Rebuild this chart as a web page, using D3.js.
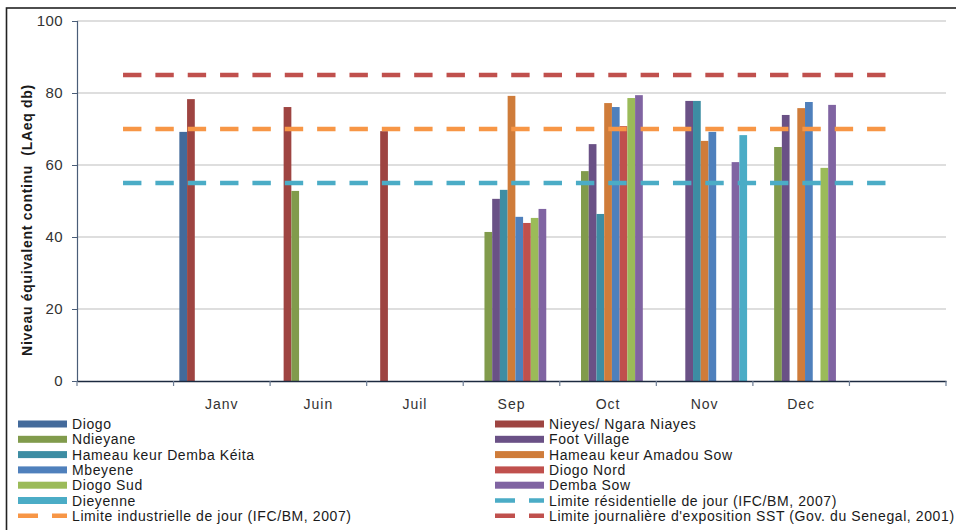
<!DOCTYPE html>
<html>
<head>
<meta charset="utf-8">
<script src="https://cdn.jsdelivr.net/npm/d3@7"></script>
<style>
  html, body { margin: 0; padding: 0; background: #fff; }
  svg { display: block; }
  svg text { font-family: "Liberation Sans", Arial, sans-serif; }
</style>
</head>
<body>
<svg id="chart" width="956" height="530"></svg>
<script>
// Months along the x axis (first and last slots are left empty)
const categories = ["", "Janv", "Juin", "Juil", "Sep", "Oct", "Nov", "Dec", ""];

// Measured noise levels, LAeq in dB (null = no measurement)
const diogo       = [null, 69.2, null, null, null, null, null, null, null];
const nieyes      = [null, 78.3, 76.1, 69.4, null, null, null, null, null];
const ndieyane    = [null, null, 52.8, null, 41.4, 58.3, null, 65.0, null];
const footVillage = [null, null, null, null, 50.6, 65.8, 77.8, 73.9, null];
const hameauDK    = [null, null, null, null, 53.1, 46.4, 77.8, null, null];
const hameauAS    = [null, null, null, null, 79.2, 77.2, 66.7, 75.8, null];
const mbeyene     = [null, null, null, null, 45.6, 76.1, 69.2, 77.5, null];
const diogoNord   = [null, null, null, null, 43.9, 70.8, null, null, null];
const diogoSud    = [null, null, null, null, 45.3, 78.6, null, 59.2, null];
const dembaSow    = [null, null, null, null, 47.8, 79.4, 60.8, 76.7, null];
const dieyenne    = [null, null, null, null, null, null, 68.3, null, null];

const seriesNames = ["Diogo", "Nieyes/ Ngara Niayes", "Ndieyane", "Foot Village",
  "Hameau keur Demba Kéita", "Hameau keur Amadou Sow", "Mbeyene", "Diogo Nord",
  "Diogo Sud", "Demba Sow", "Dieyenne"];
const seriesValues = [diogo, nieyes, ndieyane, footVillage, hameauDK, hameauAS,
  mbeyene, diogoNord, diogoSud, dembaSow, dieyenne];
const seriesColors = ["#436a9b", "#9e4441", "#819b4c", "#6a5186", "#3d8da3",
  "#cf7c3a", "#4f80bc", "#c0504d", "#9bbb59", "#8064a2", "#4bacc6"];

// Regulatory limits drawn as dashed horizontal lines
const limitNames = ["Limite résidentielle de jour (IFC/BM, 2007)",
  "Limite industrielle de jour (IFC/BM, 2007)",
  "Limite journalière d'exposition SST (Gov. du Senegal, 2001)"];
const limitValues = [55, 70, 85];
const limitColors = ["#4bacc6", "#f79646", "#c0504d"];

const yTicks = [0, 20, 40, 60, 80, 100];
const yTitle = "Niveau équivalent continu  (LAeq db)";

const FONT = '"Liberation Sans", Arial, sans-serif';
const svg = d3.select("#chart");

// Outer frame
svg.append("rect")
  .attr("x", 6.5).attr("y", 8)
  .attr("width", 1000).attr("height", 600)
  .attr("fill", "none").attr("stroke", "#222").attr("stroke-width", 1.6);

const plot = { left: 77, right: 946, top: 21, bottom: 381 };

const x = d3.scaleBand()
  .domain(d3.range(categories.length))
  .range([plot.left, plot.right])
  .padding(0);

const xInner = d3.scaleBand()
  .domain(d3.range(seriesNames.length))
  .range([0, x.bandwidth()])
  .paddingInner(0)
  .paddingOuter(0.75);

const y = d3.scaleLinear().domain([0, 100]).range([plot.bottom, plot.top]);

// Gridlines
svg.append("g")
  .selectAll("line")
  .data(yTicks.filter(d => d > 0))
  .join("line")
  .attr("x1", plot.left).attr("x2", plot.right)
  .attr("y1", d => y(d)).attr("y2", d => y(d))
  .attr("stroke", "#bdbdbd").attr("stroke-width", 1);

// Bars
const barData = [];
seriesValues.forEach((vals, s) => {
  vals.forEach((v, c) => {
    if (v != null) barData.push({ s, c, v });
  });
});
svg.append("g")
  .selectAll("rect")
  .data(barData)
  .join("rect")
  .attr("x", d => x(d.c) + xInner(d.s))
  .attr("width", xInner.bandwidth())
  .attr("y", d => y(d.v))
  .attr("height", d => y(0) - y(d.v))
  .attr("fill", d => seriesColors[d.s]);

// Limit lines spanning first to last category centre
const xFirst = x(0) + x.bandwidth() / 2;
const xLast = x(categories.length - 1) + x.bandwidth() / 2;
svg.append("g")
  .selectAll("line")
  .data(limitValues)
  .join("line")
  .attr("x1", xFirst).attr("x2", xLast)
  .attr("y1", d => y(d)).attr("y2", d => y(d))
  .attr("stroke", (d, i) => limitColors[i])
  .attr("stroke-width", 4.5)
  .attr("stroke-linecap", "square")
  .attr("stroke-dasharray", "13.9 18.45");

// Y axis
const yAxis = svg.append("g")
  .attr("transform", `translate(${plot.left},0)`)
  .call(d3.axisLeft(y).tickValues(yTicks).tickSize(5).tickPadding(9));
yAxis.attr("font-family", FONT);
yAxis.select(".domain").attr("stroke", "#4a5d78").attr("stroke-width", 1.2);
yAxis.selectAll(".tick line").attr("stroke", "#4a5d78");
yAxis.selectAll(".tick text")
  .attr("fill", "#333")
  .style("font-family", FONT)
  .style("font-size", "15px")
  .style("letter-spacing", "0.4px");

// X axis
const xAxis = svg.append("g")
  .attr("transform", `translate(0,${plot.bottom})`)
  .call(d3.axisBottom(x).tickSize(0).tickPadding(18).tickFormat(i => categories[i]));
xAxis.attr("font-family", FONT);
xAxis.select(".domain").attr("stroke", "#1c2a40").attr("stroke-width", 1.5);
xAxis.selectAll(".tick text")
  .attr("fill", "#333")
  .style("font-family", FONT)
  .style("font-size", "14px")
  .style("letter-spacing", "1px");

// Category boundary tick marks
svg.append("g")
  .selectAll("line")
  .data(d3.range(categories.length + 1))
  .join("line")
  .attr("x1", i => i < categories.length ? x(i) : plot.right)
  .attr("x2", i => i < categories.length ? x(i) : plot.right)
  .attr("y1", plot.bottom).attr("y2", plot.bottom + 5)
  .attr("stroke", "#6f7f96").attr("stroke-width", 1.2);

// Y axis title
svg.append("text")
  .attr("transform", "translate(32,220) rotate(-90)")
  .attr("text-anchor", "middle")
  .attr("fill", "#1a1a1a")
  .style("font-size", "14px")
  .style("font-weight", "bold")
  .style("white-space", "pre")
  .style("letter-spacing", "0.7px")
  .text(yTitle);

// Legend: two columns, filled row by row
const legendItems = seriesNames.map((n, i) => ({ name: n, color: seriesColors[i], dashed: false }))
  .concat(limitNames.map((n, i) => ({ name: n, color: limitColors[i], dashed: true })));
const colX = [18, 495];
const rowY0 = 424, rowStep = 15.3;
const legend = svg.append("g");
const item = legend.selectAll("g")
  .data(legendItems)
  .join("g")
  .attr("transform", (d, i) => `translate(${colX[i % 2]},${rowY0 + Math.floor(i / 2) * rowStep})`);
item.filter(d => !d.dashed).append("rect")
  .attr("x", 0).attr("y", -3.5).attr("width", 49).attr("height", 7)
  .attr("fill", d => d.color);
item.filter(d => d.dashed).append("line")
  .attr("x1", 0).attr("x2", 49).attr("y1", 0).attr("y2", 0)
  .attr("stroke", d => d.color).attr("stroke-width", 4.5)
  .attr("stroke-dasharray", "20 14");
item.append("text")
  .attr("x", 54).attr("y", 5)
  .attr("fill", "#1a1a1a")
  .style("font-size", "14px")
  .style("letter-spacing", "0.6px")
  .text(d => d.name);
</script>
</body>
</html>
